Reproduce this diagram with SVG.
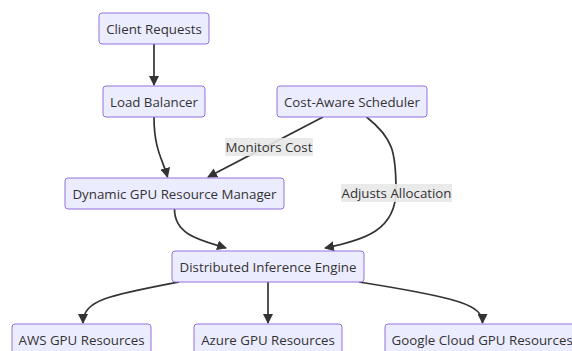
<svg xmlns="http://www.w3.org/2000/svg" width="572" height="351" viewBox="0 0 572 351">
  <style>
    .node rect { fill: #ECECFF; stroke: #9370DB; stroke-width: 1; }
    .node text, .label text { font-family: "Open Sans", "Liberation Sans", sans-serif; font-size: 13.3px; fill: #333; text-anchor: middle; dominant-baseline: central; }
    .edge { fill: none; stroke: #333; stroke-width: 1.7; marker-end: url(#arrow); }
    .label rect { fill: #e8e8e8; opacity: 0.9; }
  </style>
  <defs>
    <marker id="arrow" viewBox="0 0 10 10" refX="9" refY="5" markerWidth="10" markerHeight="10" markerUnits="userSpaceOnUse" orient="auto">
      <path d="M0,0 L10,5 L0,10 z" fill="#333"/>
    </marker>
  </defs>
  <rect width="572" height="351" fill="#ffffff"/>

  <g id="connectors">
    <path class="edge" d="M154,44 L154,85"/>
    <path class="edge" d="M154,117 C154,150 163,160 167.5,177"/>
    <path class="edge" d="M323,117 L208,177"/>
    <path class="edge" d="M366.5,117 C393,138 396,152 396,190 C396,230 365,240 325,248"/>
    <path class="edge" d="M174.5,209 C174.5,235 200,240 226,248"/>
    <path class="edge" d="M179,282 C110,295 83,300 83,323"/>
    <path class="edge" d="M268,282 L268,323"/>
    <path class="edge" d="M359,282 C460,298 482.5,305 482.5,323"/>
    <g class="label">
      <rect x="225" y="138" width="88" height="18"/>
      <text x="269" y="147">Monitors Cost</text>
    </g>
    <g class="label">
      <rect x="341" y="184" width="111" height="18"/>
      <text x="396.5" y="193">Adjusts Allocation</text>
    </g>
  </g>

  <g id="client" class="node">
    <rect x="99" y="13" width="110" height="31" rx="3"/>
    <text x="154" y="28.5">Client Requests</text>
  </g>
  <g id="loadBalancer" class="node">
    <rect x="103" y="86" width="102" height="31" rx="3"/>
    <text x="154" y="101.5">Load Balancer</text>
  </g>
  <g id="scheduler" class="node">
    <rect x="277" y="86" width="150" height="31" rx="3"/>
    <text x="352" y="101.5">Cost-Aware Scheduler</text>
  </g>
  <g id="manager" class="node">
    <rect x="65" y="178" width="219" height="31" rx="3"/>
    <text x="174.5" y="193.5">Dynamic GPU Resource Manager</text>
  </g>
  <g id="engine" class="node">
    <rect x="172" y="251" width="192" height="31" rx="3"/>
    <text x="268" y="266.5">Distributed Inference Engine</text>
  </g>
  <g id="aws" class="node">
    <rect x="12" y="324" width="139" height="31" rx="3"/>
    <text x="81.5" y="339.5">AWS GPU Resources</text>
  </g>
  <g id="azure" class="node">
    <rect x="194" y="324" width="148" height="31" rx="3"/>
    <text x="268" y="339.5">Azure GPU Resources</text>
  </g>
  <g id="google" class="node">
    <rect x="385" y="324" width="196" height="31" rx="3"/>
    <text x="391.5" y="339.5" style="text-anchor:start">Google Cloud GPU Resources</text>
  </g>
</svg>
